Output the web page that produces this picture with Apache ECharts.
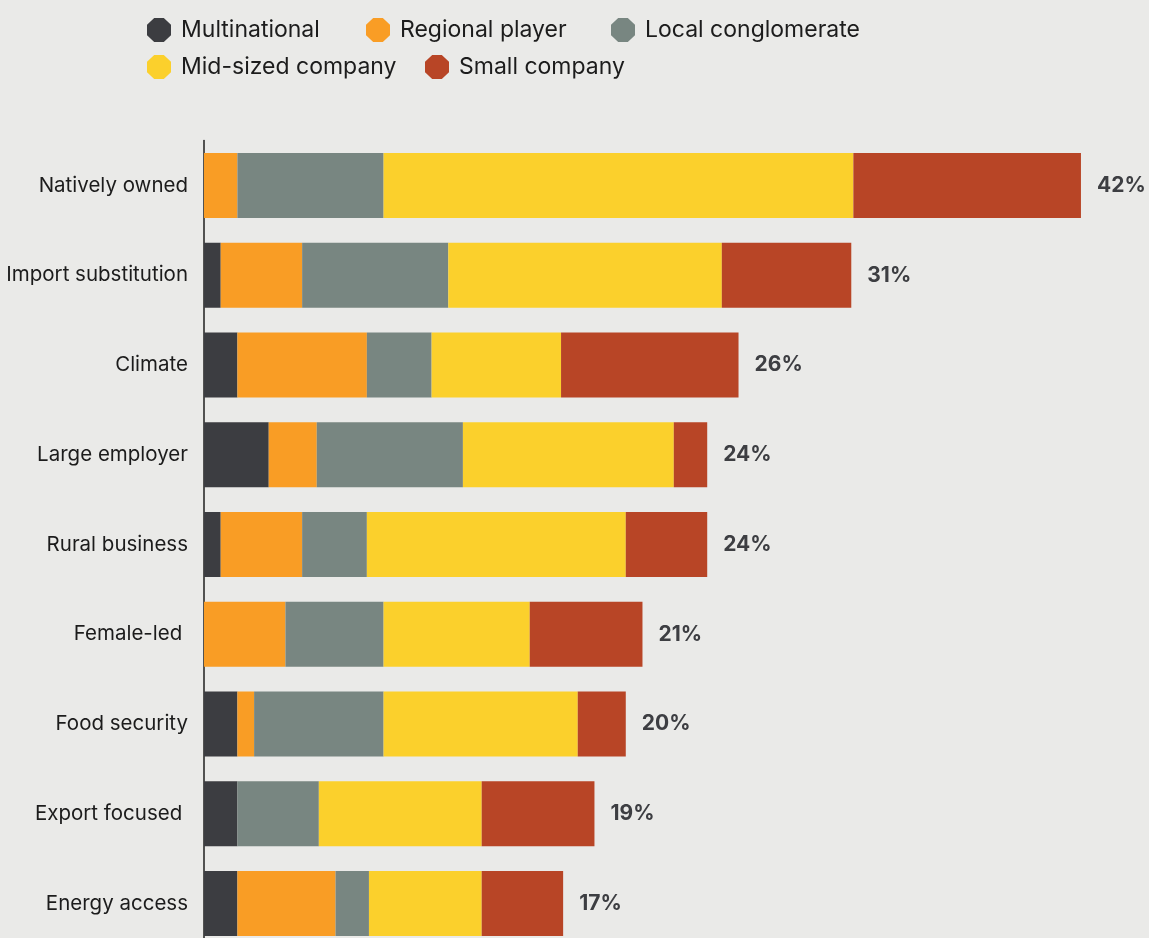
<!DOCTYPE html>
<html>
<head>
<meta charset="utf-8">
<style>
  html, body { margin: 0; padding: 0; background: #eaeae8; }
  #chart { width: 1149px; height: 938px; }
</style>
<script src="https://cdn.jsdelivr.net/npm/echarts@6/dist/echarts.min.js"></script>
</head>
<body>
<div id="chart"></div>
<script>
// Share of companies (%) by business characteristic, split by company type
const categories = ['Natively owned', 'Import substitution', 'Climate', 'Large employer', 'Rural business',
  'Female-led ', 'Food security', 'Export focused ', 'Energy access'];
const multinational     = [0,    0.8,  1.6, 3.1,  0.8,  0,   1.6, 1.6, 1.6];
const regionalPlayer    = [1.6,  3.9,  6.2, 2.3,  3.9,  3.9, 0.8, 0,   4.7];
const localConglomerate = [7.0,  7.0,  3.1, 7.0,  3.1,  4.7, 6.2, 3.9, 1.6];
const midSizedCompany   = [22.5, 13.1, 6.2, 10.1, 12.4, 7.0, 9.3, 7.8, 5.4];
const smallCompany      = [10.9, 6.2,  8.5, 1.6,  3.9,  5.4, 2.3, 5.4, 3.9];

const seriesNames = ['Multinational', 'Regional player', 'Local conglomerate', 'Mid-sized company', 'Small company'];
const seriesData = [multinational, regionalPlayer, localConglomerate, midSizedCompany, smallCompany];
const colors = ['#3c3d41', '#f99d25', '#788681', '#fbd02c', '#b84526'];

const totals = categories.map((_, i) => seriesData.reduce((s, arr) => s + arr[i], 0));

const FONT = 'Inter, "Noto Sans", sans-serif';
const octagon = 'path://M30,0 L70,0 L100,28 L100,72 L70,100 L30,100 L0,72 L0,28 Z';

// one legend block per entry so the two rows line up
const legendSpots = [
  { left: 147, top: 18 }, { left: 366, top: 18 }, { left: 611, top: 18 },
  { left: 147, top: 55 }, { left: 425, top: 55 }
];
const legends = seriesNames.map((name, i) => ({
  data: [name],
  left: legendSpots[i].left,
  top: legendSpots[i].top,
  padding: 0,
  orient: 'horizontal',
  icon: octagon,
  itemWidth: 24,
  itemHeight: 25,
  selectedMode: false,
  textStyle: { fontFamily: FONT, fontSize: 23, color: '#1c1c1c', padding: [0, 0, 0, 5] }
}));

const chart = echarts.init(document.getElementById('chart'), null, { renderer: 'canvas' });

chart.setOption({
  backgroundColor: '#eaeae8',
  animation: false,
  color: colors,
  legend: legends,
  grid: {
    left: 204, top: 140.6, width: 939.6, height: 807.75,
    containLabel: false, outerBoundsMode: 'none'
  },
  xAxis: {
    type: 'value', min: 0, max: 45, show: false
  },
  yAxis: {
    type: 'category',
    data: categories,
    inverse: true,
    axisLine: { show: true, lineStyle: { color: '#1f1f1f', width: 1.5 } },
    axisTick: { show: false },
    splitLine: { show: false },
    axisLabel: { fontFamily: FONT, fontSize: 20.5, color: '#1c1c1c', margin: 16, padding: [5, 0, 0, 0] }
  },
  series: seriesNames.map((name, i) => ({
    name: name,
    type: 'bar',
    stack: 'total',
    barWidth: 65,
    data: seriesData[i],
    itemStyle: { color: colors[i] },
    label: i === seriesNames.length - 1 ? {
      show: true,
      position: 'right',
      distance: 16,
      padding: [5, 0, 0, 0],
      fontFamily: FONT,
      fontSize: 21,
      fontWeight: 700,
      color: '#3d3e42',
      formatter: p => Math.round(totals[p.dataIndex]) + '%'
    } : { show: false }
  }))
});
</script>
</body>
</html>
